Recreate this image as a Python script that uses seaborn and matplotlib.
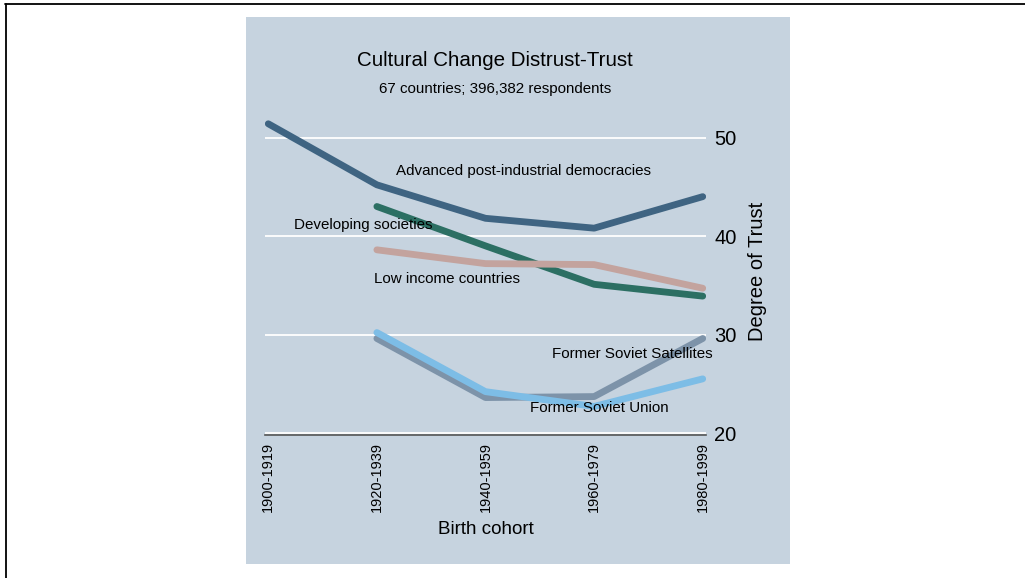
"""Cultural change: distrust-trust by birth cohort."""

import matplotlib.pyplot as plt
import numpy as np
import pandas as pd
import seaborn as sns
from matplotlib.lines import Line2D
from matplotlib.patches import Rectangle

cohorts = ["1900-1919", "1920-1939", "1940-1959", "1960-1979", "1980-1999"]

advanced = [51.4, 45.2, 41.8, 40.8, 44.0]
developing = [np.nan, 43.0, 39.0, 35.1, 33.9]
low_income = [np.nan, 38.6, 37.2, 37.1, 34.7]
soviet_satellites = [np.nan, 29.6, 23.6, 23.7, 29.6]
soviet_union = [np.nan, 30.2, 24.2, 22.7, 25.5]

series_names = [
    "Advanced post-industrial democracies",
    "Developing societies",
    "Low income countries",
    "Former Soviet Satellites",
    "Former Soviet Union",
]
series_colors = ["#3F6482", "#2C6F63", "#C3A39E", "#7D93A9", "#7DBDE6"]

# label anchor (cohort index, trust) for each in-plot series label
label_x = [1.18, 0.24, 0.97, 2.61, 2.41]
label_y = [46.6, 41.1, 35.6, 28.0, 22.5]

rows = []
for name, values in zip(series_names, [advanced, developing, low_income,
                                       soviet_satellites, soviet_union]):
    for i, v in enumerate(values):
        if not np.isnan(v):
            rows.append({"cohort": i, "trust": v, "group": name})
df = pd.DataFrame(rows)

sns.set_style("white")
plt.rcParams["font.family"] = ["Liberation Sans", "DejaVu Sans"]
plt.rcParams.update({"text.color": "black", "axes.labelcolor": "black",
                     "xtick.color": "black", "ytick.color": "black"})

W, H = 1025, 578
fig = plt.figure(figsize=(W / 100, H / 100), dpi=100, facecolor="white")

# shaded panel behind the chart
fig.patches.append(Rectangle((246 / W, 1 - 564 / H), (790 - 246) / W, (564 - 17) / H,
                             transform=fig.transFigure, facecolor="#C6D3DF",
                             edgecolor="none", zorder=-5))
# screenshot frame on the top and left edges
fig.lines.append(Line2D([5 / W, 1], [1 - 4 / H, 1 - 4 / H], transform=fig.transFigure,
                        color="black", linewidth=1.3))
fig.lines.append(Line2D([5.5 / W, 5.5 / W], [0, 1 - 3.5 / H], transform=fig.transFigure,
                        color="black", linewidth=1.3))

ax = fig.add_axes([265 / W, 1 - 434.5 / H, (706 - 265) / W, (434.5 - 108) / H])
ax.set_zorder(2)
ax.set_facecolor("none")

sns.lineplot(data=df, x="cohort", y="trust", hue="group", hue_order=series_names,
             palette=series_colors, linewidth=4.9, solid_capstyle="round",
             errorbar=None, legend=False, ax=ax)

for name, lx, ly in zip(series_names, label_x, label_y):
    ax.text(lx, ly, name, fontsize=10.9, ha="left", va="center", color="black")

ax.set_xlim(-0.03, 4.03)
ax.set_ylim(19.85, 53)
ax.set_yticks([20, 30, 40, 50])
ax.yaxis.grid(True, color="white", linewidth=1.3)
ax.set_axisbelow(True)
ax.yaxis.tick_right()
ax.yaxis.set_label_position("right")
ax.tick_params(axis="y", length=0, pad=6, labelsize=14.5)
ax.set_xticks(range(len(cohorts)))
ax.set_xticklabels(cohorts, rotation=90, fontsize=10.5)
ax.tick_params(axis="x", direction="inout", length=7, width=1, color="#444444",
               labelcolor="black", pad=2)

for side in ["top", "left", "right"]:
    ax.spines[side].set_visible(False)
ax.spines["bottom"].set_color("#555555")
ax.spines["bottom"].set_linewidth(1.2)

ax.set_xlabel("Birth cohort", fontsize=13.5, labelpad=6)
ax.set_ylabel("Degree of Trust", fontsize=14.5, labelpad=8)

fig.text(495 / W, 1 - 60 / H, "Cultural Change Distrust-Trust", fontsize=14.8,
         ha="center", va="center")
fig.text(495 / W, 1 - 89 / H, "67 countries; 396,382 respondents", fontsize=10.9,
         ha="center", va="center")

fig.savefig("out.png", dpi=100, facecolor="white")
